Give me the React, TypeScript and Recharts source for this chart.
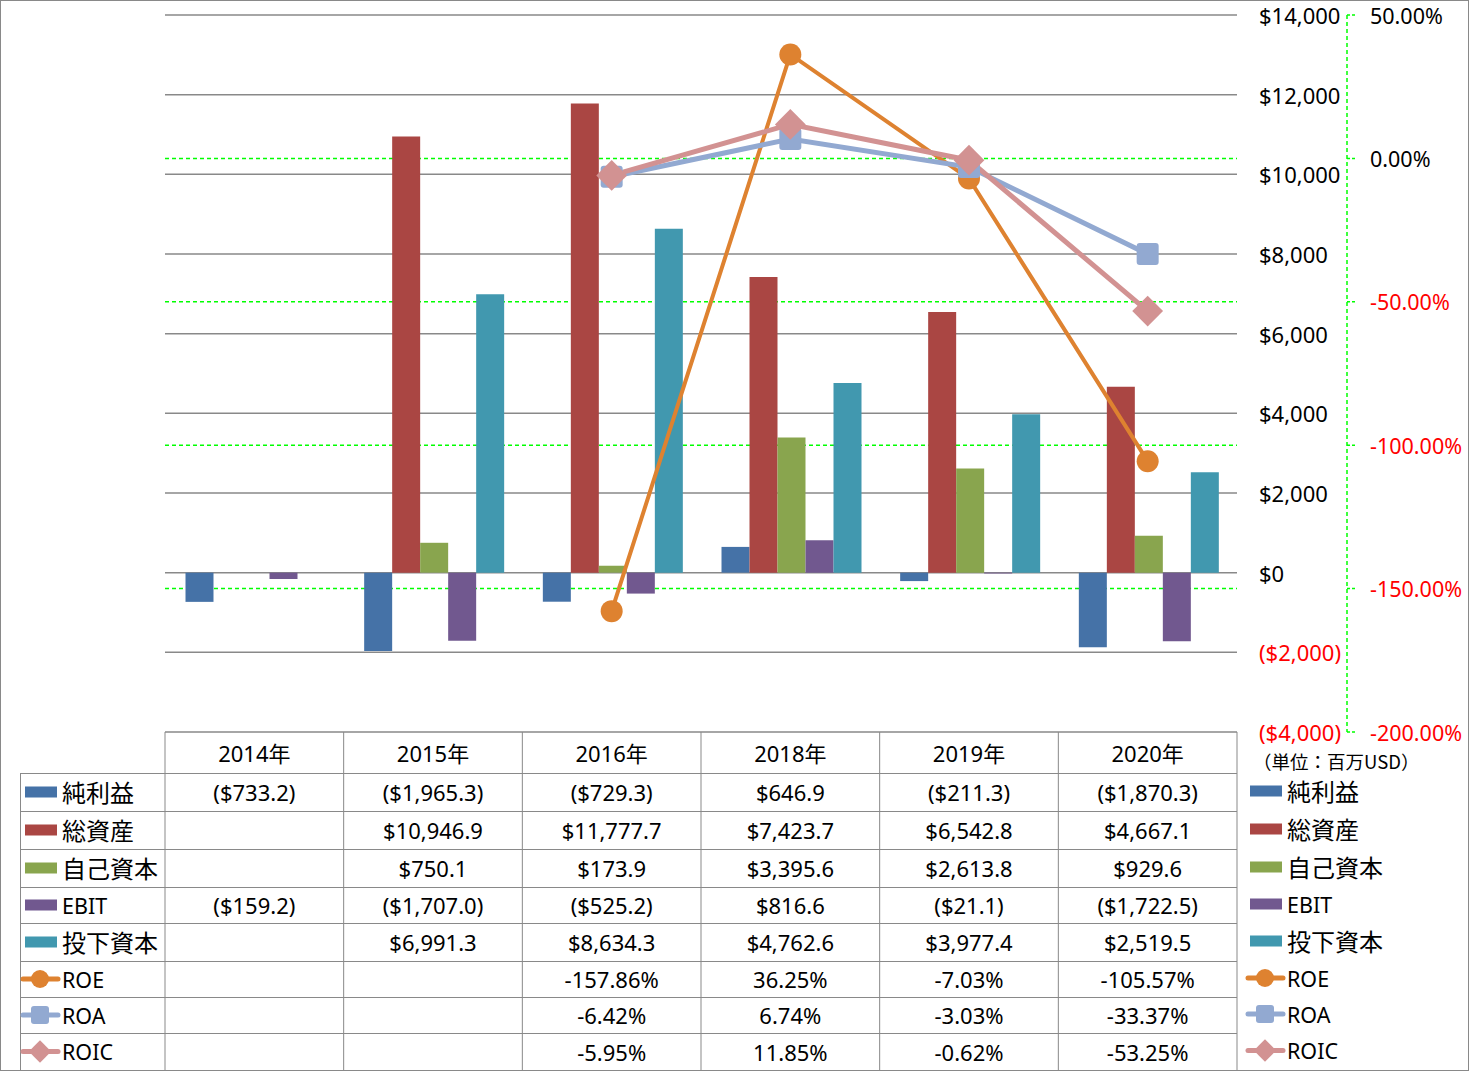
import React from "react";
import { ComposedChart, Bar, Line, XAxis, YAxis, CartesianGrid } from "recharts";

// categories
const years = ["2014年", "2015年", "2016年", "2018年", "2019年", "2020年"];

// bar series (百万USD)
const netIncome = [-733.2, -1965.3, -729.3, 646.9, -211.3, -1870.3];
const totalAssets = [null, 10946.9, 11777.7, 7423.7, 6542.8, 4667.1];
const equity = [null, 750.1, 173.9, 3395.6, 2613.8, 929.6];
const ebit = [-159.2, -1707.0, -525.2, 816.6, -21.1, -1722.5];
const investedCapital = [null, 6991.3, 8634.3, 4762.6, 3977.4, 2519.5];

// line series (%)
const roe = [null, null, -157.86, 36.25, -7.03, -105.57];
const roa = [null, null, -6.42, 6.74, -3.03, -33.37];
const roic = [null, null, -5.95, 11.85, -0.62, -53.25];

// tick labels
const amountTicks = [-4000, -2000, 0, 2000, 4000, 6000, 8000, 10000, 12000, 14000];
const pctTicks = [-200, -150, -100, -50, 0, 50];
const pctGridValues = [-150, -100, -50, 0];

const barSeries = [
  { key: "netIncome", name: "純利益", color: "#4572A7", values: netIncome },
  { key: "totalAssets", name: "総資産", color: "#AA4643", values: totalAssets },
  { key: "equity", name: "自己資本", color: "#89A54E", values: equity },
  { key: "ebit", name: "EBIT", color: "#71588F", values: ebit },
  { key: "investedCapital", name: "投下資本", color: "#4198AF", values: investedCapital },
];

const lineSeries = [
  { key: "roe", name: "ROE", color: "#DE8230", shape: "circle", width: 4, values: roe },
  { key: "roa", name: "ROA", color: "#92A9D1", shape: "square", width: 5, values: roa },
  { key: "roic", name: "ROIC", color: "#D29292", shape: "diamond", width: 5, values: roic },
];

const chartData = years.map((year, i) => {
  const row: Record<string, string | number | null> = { year };
  barSeries.forEach((s) => (row[s.key] = s.values[i]));
  lineSeries.forEach((s) => (row[s.key] = s.values[i]));
  return row;
});

// layout
const W = 1469;
const H = 1071;
const PLOT_LEFT = 165;
const PLOT_RIGHT = 1237;
const PLOT_TOP = 15;
const PLOT_BOTTOM = 732;
const BAND = (PLOT_RIGHT - PLOT_LEFT) / years.length;
const ROW_LINES = [732, 773, 811, 849, 887, 923, 961, 997, 1033, 1070];
const rowCenter = (i: number) => (ROW_LINES[i] + ROW_LINES[i + 1]) / 2;
const GRID = "#898989";
const FONT = "'Noto Sans', 'Noto Sans CJK JP', sans-serif";

const money = (v: number, digits: number) => {
  const s = Math.abs(v).toLocaleString("en-US", {
    minimumFractionDigits: digits,
    maximumFractionDigits: digits,
  });
  return v < 0 ? `($${s})` : `$${s}`;
};
const pct = (v: number) => `${v.toFixed(2)}%`;

const isCjk = (s: string) => /[^\x00-\x7f]/.test(s);

const Marker = ({ shape, cx, cy, color, size }: any) => {
  if (shape === "circle") return <circle cx={cx} cy={cy} r={size} fill={color} />;
  if (shape === "square")
    return (
      <rect x={cx - size} y={cy - size} width={size * 2} height={size * 2} rx={3} fill={color} />
    );
  const d = size * 1.4;
  return (
    <polygon
      points={`${cx},${cy - d} ${cx + d},${cy} ${cx},${cy + d} ${cx - d},${cy}`}
      fill={color}
    />
  );
};

const makeDot = (shape: string, color: string) => (p: any) => {
  if (p.cx == null || p.cy == null || p.value == null)
    return <g key={`e-${p.index}`} />;
  return (
    <g key={`d-${p.index}`}>
      <Marker shape={shape} cx={p.cx} cy={p.cy} color={color} size={11} />
    </g>
  );
};

const AmountTick = ({ x, y, payload }: any) => (
  <text
    x={x}
    y={y}
    dominantBaseline="central"
    textAnchor="start"
    fontSize={22}
    fontFamily={FONT}
    fill={payload.value < 0 ? "#FF0000" : "#000"}
  >
    {money(payload.value, 0)}
  </text>
);

const PctTick = ({ x, y, payload }: any) => (
  <text
    x={x}
    y={y}
    dominantBaseline="central"
    textAnchor="start"
    fontSize={21.5}
    fontFamily={FONT}
    fill={payload.value < 0 ? "#FF0000" : "#000"}
  >
    {pct(payload.value)}
  </text>
);

// data table column drawn at each category tick
const TableColumn = ({ x, index }: any) => {
  const i = index as number;
  const left = x - BAND / 2;
  const right = x + BAND / 2;
  return (
    <g fontFamily={FONT} fontSize={22} fill="#000">
      <line x1={left} y1={ROW_LINES[0]} x2={left} y2={H - 1} stroke={GRID} />
      {i === years.length - 1 && (
        <line x1={right} y1={ROW_LINES[0]} x2={right} y2={H - 1} stroke={GRID} />
      )}
      <text x={x} y={rowCenter(0)} textAnchor="middle" dominantBaseline="central">
        {years[i]}
      </text>
      {barSeries.map((s, r) =>
        s.values[i] == null ? null : (
          <text
            key={s.key}
            x={x}
            y={rowCenter(r + 1)}
            textAnchor="middle"
            dominantBaseline="central"
          >
            {money(s.values[i] as number, 1)}
          </text>
        )
      )}
      {lineSeries.map((s, r) =>
        s.values[i] == null ? null : (
          <text
            key={s.key}
            x={x}
            y={rowCenter(r + 1 + barSeries.length)}
            textAnchor="middle"
            dominantBaseline="central"
          >
            {pct(s.values[i] as number)}
          </text>
        )
      )}
    </g>
  );
};

const LegendItem = ({ x, cy, item, kind }: any) => (
  <g>
    {kind === "bar" ? (
      <rect x={x} y={cy - 5.5} width={32} height={11} fill={item.color} />
    ) : (
      <g>
        <line x1={x - 2} y1={cy} x2={x + 33} y2={cy} stroke={item.color} strokeWidth={5} strokeLinecap="round" />
        <Marker shape={item.shape} cx={x + 15} cy={cy} color={item.color} size={item.shape === "diamond" ? 8 : 9} />
      </g>
    )}
    <text
      x={x + 37}
      y={cy}
      dominantBaseline="central"
      fontFamily={FONT}
      fontSize={isCjk(item.name) ? 24 : 21.5}
      fill="#000"
    >
      {item.name}
    </text>
  </g>
);

const TableFrame = () => {
  const items = [
    ...barSeries.map((s) => ({ item: s, kind: "bar" })),
    ...lineSeries.map((s) => ({ item: s, kind: "line" })),
  ];
  return (
    <svg
      width={W}
      height={H}
      style={{ position: "absolute", left: 0, top: 0, pointerEvents: "none" }}
    >
      <rect x={0.5} y={0.5} width={W - 1} height={H - 1} fill="none" stroke={GRID} />
      {ROW_LINES.slice(1, -1).map((y) => (
        <line key={y} x1={20} y1={y + 0.5} x2={PLOT_RIGHT} y2={y + 0.5} stroke={GRID} />
      ))}
      <line x1={20.5} y1={ROW_LINES[1]} x2={20.5} y2={H - 1} stroke={GRID} />
      {items.map((it, r) => (
        <LegendItem key={`l-${it.item.key}`} x={25} cy={rowCenter(r + 1)} item={it.item} kind={it.kind} />
      ))}
      {items.map((it, r) => (
        <LegendItem key={`r-${it.item.key}`} x={1250} cy={rowCenter(r + 1) - 1} item={it.item} kind={it.kind} />
      ))}
      <text
        x={1253}
        y={761}
        dominantBaseline="central"
        fontFamily="'Noto Sans CJK JP', sans-serif"
        fontSize={18.5}
        fill="#000"
      >
        （単位：百万USD）
      </text>
    </svg>
  );
};

export default function App() {
  return (
    <div style={{ position: "relative", width: W, height: H, background: "#fff" }}>
      <style>{"body{margin:0;}"}</style>
      <ComposedChart
        width={W}
        height={H}
        data={chartData}
        margin={{ top: PLOT_TOP, right: 0, bottom: 0, left: PLOT_LEFT }}
        barCategoryGap={20.5}
        barGap={0}
      >
        <CartesianGrid yAxisId="amt" vertical={false} stroke={GRID} strokeWidth={1.5} />
        <CartesianGrid
          yAxisId="pct"
          vertical={false}
          horizontalValues={pctGridValues}
          stroke="#00FF00"
          strokeDasharray="4 3"
          strokeWidth={1.5}
        />
        <XAxis
          dataKey="year"
          height={H - PLOT_BOTTOM}
          interval={0}
          axisLine={false}
          tickLine={false}
          tickSize={0}
          tickMargin={0}
          tick={(p: any) => <TableColumn {...p} />}
        />
        <YAxis
          yAxisId="amt"
          orientation="right"
          width={110}
          domain={[-4000, 14000]}
          ticks={amountTicks}
          interval={0}
          axisLine={false}
          tickLine={false}
          tickSize={0}
          tickMargin={22}
          tick={(p: any) => <AmountTick {...p} />}
        />
        <YAxis
          yAxisId="pct"
          orientation="right"
          width={W - PLOT_RIGHT - 110}
          domain={[-200, 50]}
          ticks={pctTicks}
          interval={0}
          axisLine={{ stroke: "#00FF00", strokeDasharray: "4 3", strokeWidth: 1.5 }}
          tickLine={{ stroke: "#00FF00", strokeDasharray: "3 2", strokeWidth: 1.5 }}
          tickSize={8}
          tickMargin={15}
          tick={(p: any) => <PctTick {...p} />}
        />
        {barSeries.map((s) => (
          <Bar
            key={s.key}
            yAxisId="amt"
            dataKey={s.key}
            name={s.name}
            fill={s.color}
            isAnimationActive={false}
          />
        ))}
        {lineSeries.map((s) => (
          <Line
            key={s.key}
            yAxisId="pct"
            dataKey={s.key}
            name={s.name}
            stroke={s.color}
            strokeWidth={s.width}
            dot={makeDot(s.shape, s.color)}
            activeDot={false}
            isAnimationActive={false}
          />
        ))}
      </ComposedChart>
      <TableFrame />
    </div>
  );
}
